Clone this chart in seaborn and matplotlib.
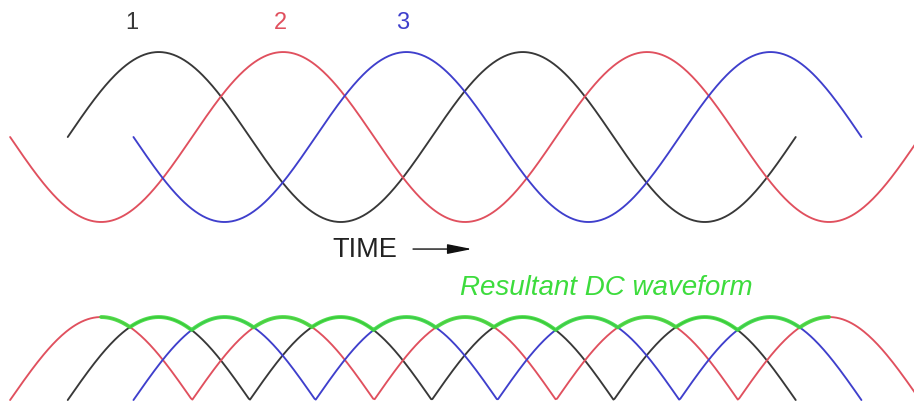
import numpy as np
import pandas as pd
import matplotlib
import matplotlib.pyplot as plt
import seaborn as sns

matplotlib.use('Agg')

# three phases, angles in degrees of the time axis
phase_labels = ["1", "2", "3"]
phase_shift = [0, 123, 245]        # phase lag of each wave
phase_start = [0, -180, -180]      # first angle drawn (own phase)
phase_end = [720, 720, 540]        # last angle drawn (own phase)
phase_colors = ["#383838", "#e0505e", "#3f3fcc"]

time_range = [-67, 837]            # visible part of the time axis
dc_range = [33, 753]               # span of the resultant DC envelope
dc_label = "Resultant DC waveform"
time_label = "TIME"

sns.set_theme(style="white")
plt.rcParams['font.family'] = ['Liberation Sans', 'DejaVu Sans']

rows = []
for lab, shift, a0, a1 in zip(phase_labels, phase_shift, phase_start, phase_end):
    ang = np.linspace(a0, a1, 600)
    val = np.sin(np.radians(ang))
    for t, v in zip(ang + shift, val):
        rows.append({"phase": lab, "t": t, "ac": v, "dc": abs(v)})
df = pd.DataFrame(rows)

t_env = np.linspace(dc_range[0], dc_range[1], 1500)
env = np.max([np.abs(np.sin(np.radians(t_env - s))) for s in phase_shift], axis=0)
env_df = pd.DataFrame({"t": t_env, "dc": env})

fig = plt.figure(figsize=(9.14, 4.03), dpi=100)
fig.patch.set_facecolor("white")
ax_top = fig.add_axes([0, 0.4175, 1, 0.485])
ax_bot = fig.add_axes([0, -0.0132, 1, 0.2574])

pal = dict(zip(phase_labels, phase_colors))
sns.lineplot(data=df, x="t", y="ac", hue="phase", palette=pal, sort=False,
             estimator=None, units="phase", linewidth=1.35, legend=False, ax=ax_top)
sns.lineplot(data=df, x="t", y="dc", hue="phase", palette=pal, sort=False,
             estimator=None, units="phase", linewidth=1.35, legend=False, ax=ax_bot)
sns.lineplot(data=env_df, x="t", y="dc", color="#3ddc3d", linewidth=2.8,
             alpha=0.9, ax=ax_bot)

ax_top.set_xlim(time_range)
ax_top.set_ylim(-1.15, 1.15)
ax_bot.set_xlim(time_range)
ax_bot.set_ylim(-0.1, 1.15)
for ax in (ax_top, ax_bot):
    ax.set_axis_off()

# phase numbers above the first peaks
for lab, col, x in zip(phase_labels, phase_colors, [0.1444, 0.3063, 0.4409]):
    fig.text(x, 0.943, lab, color=col, fontsize=17, ha="center", va="center")

fig.text(0.3988, 0.3797, time_label, color="#222222", fontsize=19.5,
         ha="center", va="center")
fig.add_artist(matplotlib.patches.FancyArrowPatch(
    (0.4519, 0.382), (0.5164, 0.382), transform=fig.transFigure,
    arrowstyle="-|>,head_length=0.75,head_width=0.15", mutation_scale=20,
    color="#111111", lw=1.0, shrinkA=0, shrinkB=0))

fig.text(0.6636, 0.2854, dc_label, color="#3ddc3d", fontsize=20,
         style="italic", ha="center", va="center")

fig.savefig("out.png", dpi=100, facecolor="white")
plt.close(fig)
